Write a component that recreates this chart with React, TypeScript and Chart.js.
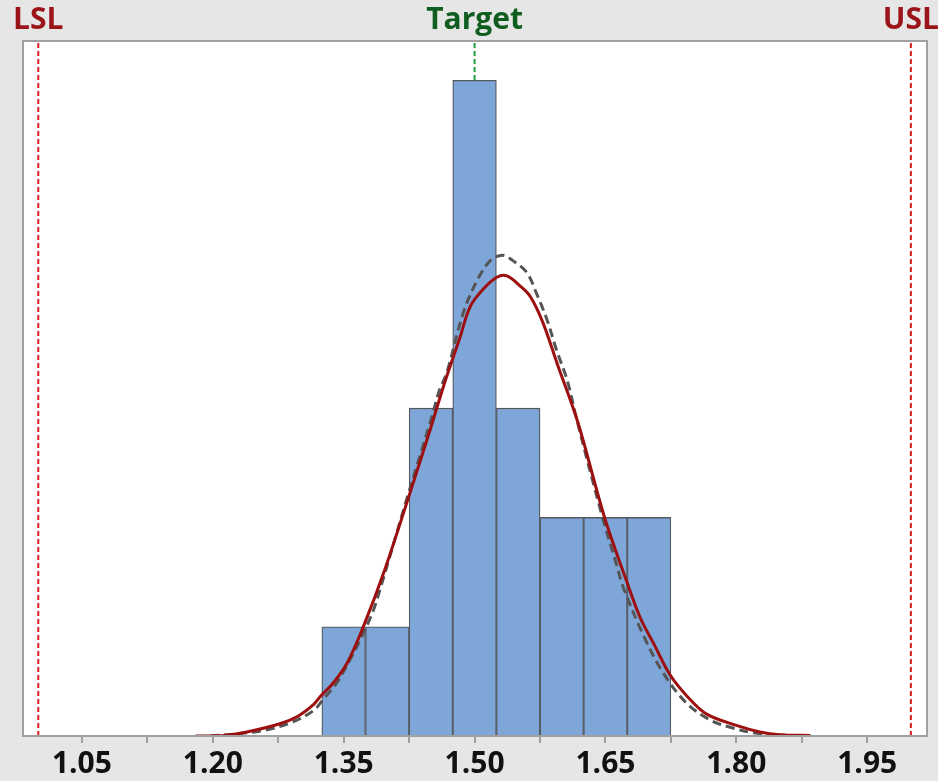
import React, { useEffect, useRef } from "react";
import { Chart, registerables } from "chart.js";

Chart.register(...registerables);

// Histogram bins (centre of each 0.05-wide bin) and counts
const binCenters = [1.35, 1.4, 1.45, 1.5, 1.55, 1.6, 1.65, 1.7];
const binCounts = [1, 1, 3, 6, 3, 2, 2, 2];

// Within (solid red) fitted curve
const withinX = [1.18, 1.212, 1.239, 1.277, 1.297, 1.315, 1.323, 1.338, 1.354, 1.372, 1.397, 1.425, 1.449, 1.466, 1.483, 1.495, 1.51, 1.526, 1.537, 1.552, 1.564, 1.578, 1.595, 1.618, 1.649, 1.675, 1.69, 1.705, 1.724, 1.744, 1.766, 1.801, 1.827, 1.85, 1.885];
const withinY = [0.0, 0.005, 0.037, 0.112, 0.178, 0.284, 0.36, 0.485, 0.668, 0.99, 1.52, 2.2, 2.8, 3.24, 3.64, 3.93, 4.09, 4.2, 4.21, 4.12, 4.02, 3.79, 3.4, 2.88, 2.0, 1.4, 1.08, 0.85, 0.56, 0.36, 0.2, 0.095, 0.037, 0.012, 0.005];

// Overall (dashed grey) fitted curve
const overallX = [1.197, 1.228, 1.258, 1.289, 1.315, 1.326, 1.342, 1.357, 1.369, 1.384, 1.392, 1.422, 1.451, 1.46, 1.468, 1.487, 1.503, 1.518, 1.532, 1.544, 1.56, 1.571, 1.583, 1.594, 1.606, 1.617, 1.646, 1.663, 1.67, 1.693, 1.716, 1.743, 1.77, 1.793, 1.819, 1.858, 1.873];
const overallY = [0.0, 0.02, 0.05, 0.12, 0.23, 0.33, 0.485, 0.695, 0.88, 1.15, 1.35, 2.16, 2.92, 3.17, 3.32, 3.87, 4.17, 4.35, 4.4, 4.35, 4.24, 4.05, 3.81, 3.53, 3.26, 2.9, 2.02, 1.56, 1.37, 0.93, 0.58, 0.3, 0.146, 0.08, 0.03, 0.005, 0.0];

// Axis ticks
const majorTicks = [1.05, 1.2, 1.35, 1.5, 1.65, 1.8, 1.95];
const majorTickLabels = ["1.05", "1.20", "1.35", "1.50", "1.65", "1.80", "1.95"];
const minorTicks = [1.125, 1.275, 1.425, 1.575, 1.725, 1.875];

// Specification lines
const specValues = [1.0, 1.5, 2.0];
const specLabels = ["LSL", "Target", "USL"];

const X_MIN = 0.9825;
const X_MAX = 2.0185;
const Y_MAX = 6.36;

const SPEC_LINE_COLORS = ["#dd1c1c", "#1f9a3c", "#dd1c1c"];
const SPEC_TEXT_COLORS = ["#9b1419", "#105e1f", "#9b1419"];

export default function App() {
  const canvasRef = useRef<HTMLCanvasElement | null>(null);

  useEffect(() => {
    document.body.style.margin = "0";
    const canvas = canvasRef.current;
    if (!canvas) return;

    const allTicks = [...majorTicks, ...minorTicks].sort((a, b) => a - b);

    const framePlugin = {
      id: "frame",
      beforeDraw(chart: any) {
        const { ctx, chartArea } = chart;
        ctx.save();
        ctx.fillStyle = "#e6e6e6";
        ctx.fillRect(0, 0, chart.width, chart.height);
        ctx.fillStyle = "#ffffff";
        ctx.fillRect(chartArea.left, chartArea.top, chartArea.right - chartArea.left, chartArea.bottom - chartArea.top);
        ctx.restore();
      },
      afterDraw(chart: any) {
        const { ctx, chartArea } = chart;
        const xs = chart.scales.x;
        ctx.save();
        ctx.strokeStyle = "#a0a0a0";
        ctx.lineWidth = 2;
        ctx.strokeRect(chartArea.left, chartArea.top, chartArea.right - chartArea.left, chartArea.bottom - chartArea.top);
        ctx.font = "bold 30px 'Open Sans'";
        ctx.textAlign = "center";
        ctx.textBaseline = "alphabetic";
        specValues.forEach((v, i) => {
          ctx.fillStyle = SPEC_TEXT_COLORS[i];
          ctx.fillText(specLabels[i], xs.getPixelForValue(v), 29);
        });
        ctx.restore();
      },
    };

    const specDatasets = specValues.map((v, i) => ({
      type: "line" as const,
      data: [
        { x: v, y: 0 },
        { x: v, y: Y_MAX },
      ],
      borderColor: SPEC_LINE_COLORS[i],
      borderWidth: 2,
      borderDash: [5, 3],
      pointRadius: 0,
      order: 3,
    }));

    const chart = new Chart(canvas, {
      type: "bar",
      data: {
        datasets: [
          ...specDatasets,
          {
            type: "bar" as const,
            data: binCenters.map((c, i) => ({ x: c, y: binCounts[i] })),
            backgroundColor: "#7ea6d8",
            borderColor: "#555a60",
            borderWidth: 1.3,
            barPercentage: 1,
            categoryPercentage: 1,
            order: 2,
          },
          {
            type: "line" as const,
            data: overallX.map((x, i) => ({ x, y: overallY[i] })),
            borderColor: "#555555",
            borderWidth: 3,
            borderDash: [9, 5],
            pointRadius: 0,
            tension: 0.35,
            order: 1,
          },
          {
            type: "line" as const,
            data: withinX.map((x, i) => ({ x, y: withinY[i] })),
            borderColor: "#9e1010",
            borderWidth: 3,
            pointRadius: 0,
            tension: 0.35,
            order: 0,
          },
        ] as any,
      },
      options: {
        animation: false,
        responsive: false,
        devicePixelRatio: 1,
        layout: { padding: { left: 23, right: 11, top: 41, bottom: 0 } },
        plugins: {
          legend: { display: false },
          tooltip: { enabled: false },
        },
        scales: {
          x: {
            type: "linear",
            min: X_MIN,
            max: X_MAX,
            offset: false,
            afterBuildTicks: (scale: any) => {
              scale.ticks = allTicks.map((v) => ({ value: v }));
            },
            afterFit: (scale: any) => {
              scale.height = 45;
            },
            grid: {
              display: true,
              offset: false,
              drawOnChartArea: false,
              drawTicks: true,
              tickLength: 7,
              color: "#a0a0a0",
              lineWidth: 2,
            },
            border: { display: true, color: "#a0a0a0", width: 2 },
            ticks: {
              autoSkip: false,
              maxRotation: 0,
              minRotation: 0,
              padding: 3,
              color: "#111111",
              font: { family: "'Open Sans'", size: 30, weight: "bold" },
              callback: (value: any) => {
                const i = majorTicks.findIndex((t) => Math.abs(t - Number(value)) < 1e-9);
                return i >= 0 ? majorTickLabels[i] : "";
              },
            },
          },
          y: {
            type: "linear",
            display: false,
            min: 0,
            max: Y_MAX,
          },
        },
      } as any,
      plugins: [framePlugin],
    });

    return () => {
      chart.destroy();
    };
  }, []);

  return (
    <div style={{ width: 938, height: 781 }}>
      <canvas ref={canvasRef} width={938} height={781} style={{ display: "block" }} />
    </div>
  );
}
